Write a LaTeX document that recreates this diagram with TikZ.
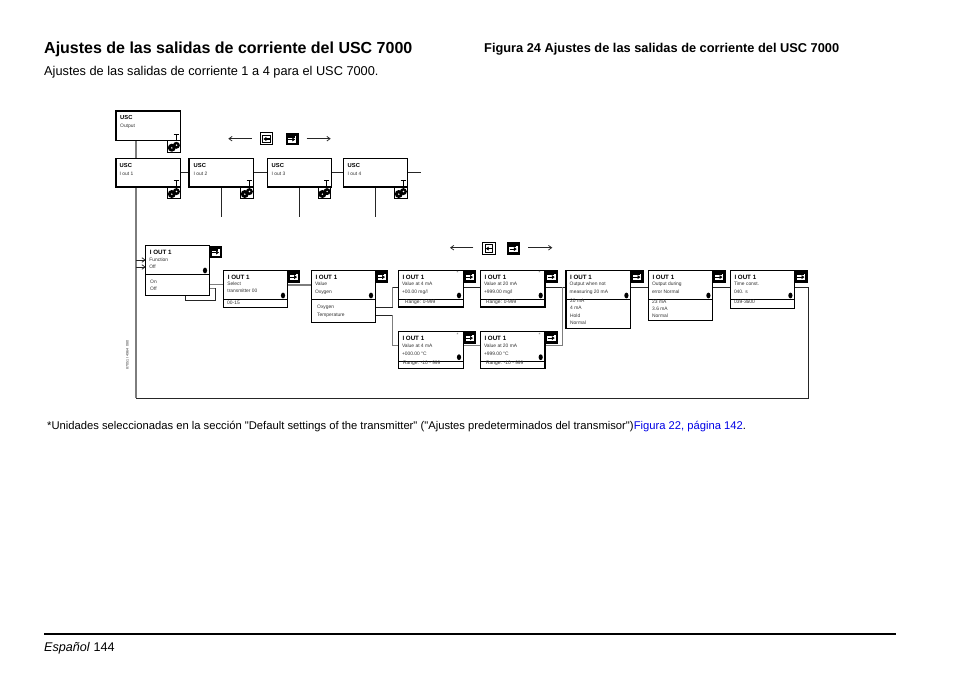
\documentclass[tikz,border=0pt]{standalone}
\usepackage{fontspec}
\setmainfont{Liberation Sans}[Ligatures=TeXOff]
\usetikzlibrary{arrows.meta}
\definecolor{linkblue}{RGB}{0,0,230}
\definecolor{graywire}{RGB}{125,125,125}
\tikzset{
  x=1pt,y=-1pt,
  menubox/.style={draw=black,line width=1.1pt,fill=white},
  wire/.style={draw=black!85,line width=.95pt},
  graywireline/.style={draw=graywire,line width=1.3pt},
  flow/.style={draw=black!85,line width=.75pt,-{Straight Barb[length=3.2pt,width=4.6pt]}},
  ttl/.style={anchor=base west,inner sep=0pt,font=\fontsize{5.8}{6}\selectfont\bfseries},
  ttlb/.style={anchor=base west,inner sep=0pt,font=\fontsize{6.2}{7}\selectfont\bfseries},
  tiny/.style={anchor=base west,inner sep=0pt,font=\fontsize{4.9}{5}\selectfont,text=black!80},
}
\newcommand{\mgl}{mg/l}
\newcommand{\keyleft}[2]{%
  \begin{scope}[shift={(#1,#2)}]
    \draw[black,fill=white,line width=1.1pt] (0,0) rectangle (12.5,12.2);
    \draw[black,line width=1pt] (2.4,2.4) rectangle (10.1,9.8);
    \draw[black,line width=1.2pt,-{Latex[length=3pt,width=4.5pt]}] (9.6,6.3) -- (3,6.3);
  \end{scope}}
\newcommand{\keyright}[2]{%
  \begin{scope}[shift={(#1,#2)}]
    \fill[black] (0,0) rectangle (13,12.4);
    \fill[white] (2.2,3.2) rectangle (10.6,10);
    \fill[black] (2.2,3.2) rectangle (9,5);
    \draw[black,line width=1.2pt,-{Latex[length=3pt,width=4.5pt]}] (2.6,6.8) -- (9.8,6.8);
  \end{scope}}
\newcommand{\mysmallI}[2]{%
  \draw[black,line width=.7pt] (#1-2.5,#2) -- (#1+2.5,#2) (#1,#2) -- (#1,#2+6) (#1-2.5,#2+6) -- (#1+2.5,#2+6);}
\newcommand{\gearicon}[2]{%
  \begin{scope}[shift={(#1,#2)}]
    \draw[black,fill=white,line width=.9pt] (0,0) rectangle (12.7,11.6);
    \fill[black] (4.3,7) circle (4);
    \fill[black] (8.9,4.6) circle (3.5);
    \fill[white] (4.3,7.2) circle (.8) (9,4.5) circle (.8);
  \end{scope}}
\newcommand{\dotmark}[2]{\fill[black] (#1,#2) ellipse (2.1 and 2.9);}
\begin{document}
\begin{tikzpicture}
\useasboundingbox (0,0) rectangle (954,674);
\fill[white] (0,0) rectangle (954,674);
% page texts
\node[anchor=base west,inner sep=0pt,font=\fontsize{16}{20}\selectfont\bfseries] (h1) at (44,54) {Ajustes de las salidas de corriente del USC 7000};
\node[anchor=base west,inner sep=0pt,font=\fontsize{12.8}{15}\selectfont\bfseries] (h2) at (484,52.5) {Figura 24 Ajustes de las salidas de corriente del USC 7000};
\node[anchor=base west,inner sep=0pt,font=\fontsize{12.77}{15}\selectfont] (sub) at (44,75.5) {Ajustes de las salidas de corriente 1 a 4 para el USC 7000.};
\node[anchor=base west,inner sep=0pt,font=\fontsize{11.22}{13}\selectfont] (note) at (47,429) {*Unidades seleccionadas en la sección "Default settings of the transmitter" ("Ajustes predeterminados del transmisor")\textcolor{linkblue}{Figura 22, página 142}.};
\node[anchor=base west,inner sep=0pt,font=\fontsize{12.6}{15}\selectfont] (foot) at (44,651) {\textit{Español} 144};
\coordinate (rl) at (44,634); \coordinate (rr) at (896,634);
\draw[black,line width=1.8pt] (rl) -- (rr);
% top connectors
\draw[graywireline] (136,141) -- (136,158.7);
\draw[graywireline] (136,187) -- (136,398.3);
\draw[wire] (136,398.3) -- (808.7,398.3) -- (808.7,287.3) -- (794.7,287.3);
\draw[wire] (180,172.3) -- (189,172.3) (253,172.3) -- (267.3,172.3) (331,172.3) -- (343.3,172.3) (407,172.3) -- (421,172.3);
\draw[wire] (221.3,187) -- (221.3,216.7) (299.3,187) -- (299.3,216.7) (375.3,187) -- (375.3,216.7);
\draw[flow] (136,260) -- (145.7,260);
\draw[flow] (136,267) -- (145.7,267);
% lower connectors
\draw[graywireline] (209.3,284.3) -- (223.7,284.3);
\draw[graywireline] (209.3,288.3) -- (215.3,288.3);
\draw[wire] (215.3,288.3) -- (215.3,300.3) -- (185,300.3) -- (185,295.7);
\draw[graywireline] (287.3,285) -- (311.3,285);
\draw[wire] (375.3,307) -- (392.7,307);
\draw[graywireline] (392.7,307) -- (392.7,287.3);
\draw[wire] (392.7,287.3) -- (398.3,287.3);
\draw[wire] (375.3,315.3) -- (392.7,315.3);
\draw[graywireline] (392.7,315.3) -- (392.7,345.7) -- (398.3,345.7);
\draw[wire] (463,287.3) -- (480.3,287.3) (545,287.3) -- (566,287.3) (630.7,287.3) -- (648.3,287.3) (712.7,287.3) -- (730.3,287.3);
\draw[graywireline] (463,345.7) -- (480.3,345.7);
\draw[graywireline] (545,345.7) -- (562.7,345.7) -- (562.7,287.3);
% USC boxes
\foreach \n/\xa/\xb/\ya/\yb/\tx/\subt/\dt/\ds in {a/116/180.7/111/140.7/120/Output/9/17,b/116/180.7/158.7/187/119.5/I out 1/8.5/16.5,c/189/253.7/158.7/187/193.5/I out 2/8.5/16.5,d/267.3/331.3/158.7/187/271.5/I out 3/8.5/16.5,e/343.3/407.7/158.7/187/347.5/I out 4/8.5/16.5}{
  \draw[menubox] (\xa,\ya) rectangle (\xb,\yb);
  \node[ttl] (t\n) at (\tx,\ya+\dt) {USC};
  \node[tiny] (s\n) at (\tx,\ya+\ds) {\subt};
  \mysmallI{\xb-4.5}{\yb-6.5}
  \gearicon{\xb-13.2}{\yb}
}
% arrows with keys
\coordinate (al1) at (251.7,138.7); \coordinate (al2) at (228.3,138.7);
\coordinate (ar1) at (306.7,138.7); \coordinate (ar2) at (330.7,138.7);
\draw[flow] (al1) -- (al2);
\draw[flow] (ar1) -- (ar2);
\keyleft{260.3}{132.7}
\keyright{285.5}{132.7}
\coordinate (bl1) at (473.3,247.7); \coordinate (bl2) at (450,247.7);
\coordinate (br1) at (528.3,247.7); \coordinate (br2) at (552.3,247.7);
\draw[flow] (bl1) -- (bl2);
\draw[flow] (br1) -- (br2);
\keyleft{482.7}{242.3}
\keyright{507}{242.3}
% menu boxes: x1,x2,y1,div,y2
\foreach \xa/\xb/\ya/\ym/\yb/\la/\lb/\da/\db in {
 145.7/209.3/245.7/274.3/295.7/Function/Off/16/23,
 223.7/287.3/270.3/299.3/307.3/Select/transmitter 00/15.5/22.5,
 311.3/375.3/270.3/299.3/322.3/Value/Oxygen/15.5/23,
 398.3/463.3/270.3/299.3/307/Value at 4 mA/+00.00 \mgl/15.5/23.4,
 480.3/545/270.3/299.3/307/Value at 20 mA/+999.00 \mgl/15.5/23.4,
 566/630.7/270.3/299.3/328.3/Output when not/measuring 20 mA/15.5/23,
 648.3/712.7/270.3/299.3/320.7/Output during/error Normal/15.5/23,
 730.3/794.7/270.3/299.3/308.3/Time const./040. s/15.5/23,
 398.3/463.3/331.3/361/368.3/Value at 4 mA/+000.00 °C/16/23.7,
 480.3/545/331.3/361/368.3/Value at 20 mA/+999.00 °C/16/23.7}{
  \draw[menubox] (\xa,\ya) rectangle (\xb,\yb);
  \draw[black,line width=1pt] (\xa,\ym) -- (\xb,\ym);
  \node[ttlb] at (\xa+4,\ya+8.8) {I OUT 1};
  \node[tiny] at (\xa+3.5,\ya+\da) {\la};
  \node[tiny] at (\xa+3.5,\ya+\db) {\lb};
  \dotmark{\xb-4.3}{\ym-3.8}
  \keyright{\xb}{\ya}
}
% stars
\foreach \x/\y in {457.5/273,539.5/273,457.5/334.5,539.5/334.5}
  \node[tiny,anchor=center,text=black!60] at (\x,\y) {*};
% lower options
\node[tiny] at (150,283.5) {On};
\node[tiny] at (150,290.7) {Off};
\node[tiny] at (227,304) {00-15};
\node[tiny] at (317,308.7) {Oxygen};
\node[tiny] at (317,316) {Temperature};
\node[tiny] at (405,303) {Range: 0-999};
\node[tiny] at (486,303) {Range: 0-999};
\node[tiny] at (403,364.5) {Range: -10 - 999};
\node[tiny] at (486,364.5) {Range: -10 - 999};
\node[tiny] at (570,302.8) {20 mA};
\node[tiny] at (570,309.8) {4 mA};
\node[tiny] at (570,317) {Hold};
\node[tiny] at (570,324) {Normal};
\node[tiny] at (652,303) {23 mA};
\node[tiny] at (652,310) {3.6 mA};
\node[tiny] at (652,317) {Normal};
\node[tiny] at (734,303) {039-3600};
\node[anchor=center,inner sep=0pt,rotate=90,font=\fontsize{3.6}{4}\selectfont,text=black!80] (code) at (127.5,355) {87051 I 4964 080};
\end{tikzpicture}
\end{document}
